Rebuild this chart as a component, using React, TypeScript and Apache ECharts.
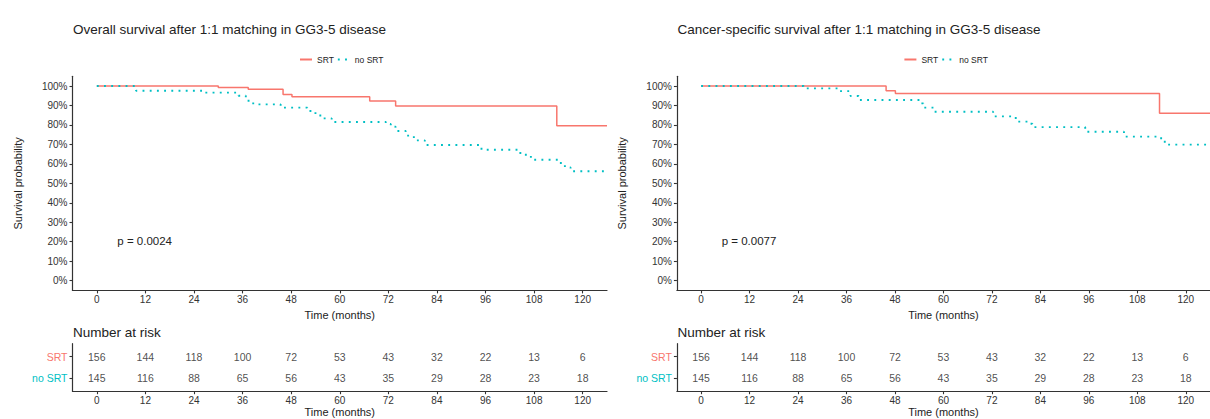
import React, { useEffect, useRef } from "react";
import * as echarts from "echarts";

// ---------- data ----------
const timeTicks = [0, 12, 24, 36, 48, 60, 72, 84, 96, 108, 120];
const survTicks = [0, 10, 20, 30, 40, 50, 60, 70, 80, 90, 100];
const groups = ["SRT", "no SRT"];

const osTitle = "Overall survival after 1:1 matching in GG3-5 disease";
const cssTitle = "Cancer-specific survival after 1:1 matching in GG3-5 disease";
const osP = "p = 0.0024";
const cssP = "p = 0.0077";

// Overall survival (time in months, survival %)
const osSrtTime = [0, 30, 37.4, 46, 48.2, 67.4, 73.8, 113.6, 126];
const osSrtSurv = [100, 99.3, 98.3, 95.7, 94.5, 92.3, 89.7, 79.6, 79.6];
const osNoTime = [0, 9.7, 26, 35, 36.8, 38, 39.2, 45.4, 52, 54, 55.2, 58, 71.4, 72.6, 73.8, 76.3, 78.3, 81, 95, 104.6, 107.2, 114.6, 115.6, 117, 126];
const osNoSurv = [100, 97.6, 96.6, 95.0, 92.4, 91.1, 90.6, 88.9, 87.2, 85.5, 83.4, 81.5, 80.5, 79.1, 76.9, 74.5, 72.1, 69.7, 67.3, 64.7, 62.1, 59.4, 58.2, 56.2, 56.2];

// Cancer-specific survival
const cssSrtTime = [0, 45.8, 48.1, 113.5, 126];
const cssSrtSurv = [100, 97.6, 96.2, 86.0, 86.0];
const cssNoTime = [0, 25.4, 34, 37, 39, 54.2, 55, 57.6, 72.3, 77.9, 81.2, 82, 95.1, 104.7, 113.9, 114.8, 126];
const cssNoSurv = [100, 98.8, 97.4, 94.9, 92.8, 91.1, 88.9, 86.8, 84.4, 81.7, 80.6, 78.9, 76.5, 74.0, 72.1, 69.9, 69.9];

// Number at risk
const osRiskSrt = [156, 144, 118, 100, 72, 53, 43, 32, 22, 13, 6];
const osRiskNo = [145, 116, 88, 65, 56, 43, 35, 29, 28, 23, 18];
const cssRiskSrt = [156, 144, 118, 100, 72, 53, 43, 32, 22, 13, 6];
const cssRiskNo = [145, 116, 88, 65, 56, 43, 35, 29, 28, 23, 18];

// ---------- style ----------
const RED = "#F8766D";
const TEAL = "#00BFC4";
const FONT = "'Liberation Sans', Arial, Helvetica, sans-serif";
const AX = "#333333";
const TXT = "#222222";
const X_MIN = -6;
const X_MAX = 126;

const zip = (t: number[], s: number[]) => t.map((v, i) => [v, s[i]]);

export default function App() {
  const ref = useRef<HTMLDivElement>(null);

  useEffect(() => {
    if (!ref.current) return;
    const chart = echarts.init(ref.current, undefined, { renderer: "svg" });

    const panelOffset = 604.4;
    const plotLeft = 72.5;
    const plotWidth = 534.5;

    const grids: any[] = [];
    const xAxes: any[] = [];
    const yAxes: any[] = [];
    const series: any[] = [];
    const titles: any[] = [];
    const legends: any[] = [];
    const graphics: any[] = [];

    const panels = [
      { title: osTitle, p: osP, srt: zip(osSrtTime, osSrtSurv), no: zip(osNoTime, osNoSurv), rs: osRiskSrt, rn: osRiskNo },
      { title: cssTitle, p: cssP, srt: zip(cssSrtTime, cssSrtSurv), no: zip(cssNoTime, cssNoSurv), rs: cssRiskSrt, rn: cssRiskNo },
    ];

    const axisLineStyle = { lineStyle: { color: AX, width: 1.2 }, onZero: false };
    const tickStyle = { show: true, length: 3, lineStyle: { color: AX, width: 1.1 } };
    const labelStyle = { color: "#333", fontFamily: FONT, fontSize: 10 };

    panels.forEach((pn, k) => {
      const off = k * panelOffset;
      const gPlot = grids.length;
      grids.push({ left: plotLeft + off, top: 76.3, width: plotWidth, height: 214.1 });
      const gTab = grids.length;
      grids.push({ left: plotLeft + off, top: 343.7, width: plotWidth, height: 47.5 });

      // plot axes
      xAxes.push({
        gridIndex: gPlot, type: "value", min: X_MIN, max: X_MAX,
        axisLine: axisLineStyle,
        axisTick: { ...tickStyle, customValues: timeTicks },
        axisLabel: { ...labelStyle, customValues: timeTicks, margin: 4 },
        splitLine: { show: false },
        name: "Time (months)", nameLocation: "middle", nameGap: 13,
        nameTextStyle: { color: TXT, fontFamily: FONT, fontSize: 11 },
      });
      yAxes.push({
        gridIndex: gPlot, type: "value", min: -5, max: 105,
        axisLine: axisLineStyle,
        axisTick: { ...tickStyle, customValues: survTicks },
        axisLabel: { ...labelStyle, customValues: survTicks, margin: 5, formatter: (v: number) => v + "%" },
        splitLine: { show: false },
        name: "Survival probability", nameLocation: "middle", nameGap: 49, nameRotate: 90,
        nameTextStyle: { color: TXT, fontFamily: FONT, fontSize: 11 },
      });
      // table axes
      xAxes.push({
        gridIndex: gTab, type: "value", min: X_MIN, max: X_MAX,
        axisLine: axisLineStyle,
        axisTick: { ...tickStyle, customValues: timeTicks },
        axisLabel: { ...labelStyle, customValues: timeTicks, margin: 4 },
        splitLine: { show: false },
        name: "Time (months)", nameLocation: "middle", nameGap: 14,
        nameTextStyle: { color: TXT, fontFamily: FONT, fontSize: 11 },
      });
      yAxes.push({
        gridIndex: gTab, type: "value", min: 0.4, max: 2.6, inverse: true,
        axisLine: axisLineStyle,
        axisTick: { ...tickStyle, customValues: [1, 2] },
        axisLabel: {
          fontFamily: FONT, fontSize: 10.5, margin: 5, customValues: [1, 2],
          formatter: (v: number) => (v === 1 ? `{a|${groups[0]}}` : `{b|${groups[1]}}`),
          rich: {
            a: { color: RED, fontFamily: FONT, fontSize: 10.5 },
            b: { color: TEAL, fontFamily: FONT, fontSize: 10.5 },
          },
        },
        splitLine: { show: false },
      });

      series.push({
        name: groups[0], type: "line", step: "end", xAxisIndex: gPlot, yAxisIndex: gPlot,
        data: pn.srt, symbol: "none", showSymbol: false, clip: true,
        lineStyle: { color: RED, width: 1.5 }, itemStyle: { color: RED }, z: 3,
      });
      series.push({
        name: groups[1], type: "line", step: "end", xAxisIndex: gPlot, yAxisIndex: gPlot,
        data: pn.no, symbol: "none", showSymbol: false, clip: true,
        lineStyle: { color: TEAL, width: 1.9, type: [1.9, 5.3], cap: "butt" }, itemStyle: { color: TEAL }, z: 4,
      });

      const tabLabel = {
        show: true, position: "inside",
        formatter: (p: any) => String(p.value[2]),
        color: TXT, fontFamily: FONT, fontSize: 10.5,
      };
      series.push({
        type: "scatter", xAxisIndex: gTab, yAxisIndex: gTab, symbolSize: 1,
        itemStyle: { color: "rgba(0,0,0,0)" }, silent: true,
        data: timeTicks.map((t, i) => [t, 1, pn.rs[i]]), label: tabLabel,
      });
      series.push({
        type: "scatter", xAxisIndex: gTab, yAxisIndex: gTab, symbolSize: 1,
        itemStyle: { color: "rgba(0,0,0,0)" }, silent: true,
        data: timeTicks.map((t, i) => [t, 2, pn.rn[i]]), label: tabLabel,
      });

      titles.push({
        text: pn.title, left: 73 + off, top: 22, padding: 0,
        textStyle: { color: TXT, fontFamily: FONT, fontSize: 13.5, fontWeight: "normal" },
      });
      titles.push({
        text: "Number at risk", left: 73 + off, top: 325, padding: 0,
        textStyle: { color: TXT, fontFamily: FONT, fontSize: 13.5, fontWeight: "normal" },
      });
      legends.push({
        data: groups, left: 294 + off, top: 50, itemWidth: 12, itemHeight: 8, itemGap: 3,
        textStyle: { color: TXT, fontFamily: FONT, fontSize: 8.5 },
        itemStyle: { opacity: 0 },
        selectedMode: false,
      });
      graphics.push({
        type: "text", left: 117.3 + off, top: 235,
        style: { text: pn.p, fill: TXT, font: `11.5px ${FONT}` },
      });
    });

    chart.setOption({
      animation: false,
      backgroundColor: "#ffffff",
      title: titles,
      legend: legends,
      grid: grids,
      xAxis: xAxes,
      yAxis: yAxes,
      series,
      graphic: graphics,
    });

    return () => chart.dispose();
  }, []);

  return (
    <div
      ref={ref}
      style={{ position: "fixed", left: 0, top: 0, width: 1210, height: 419 }}
    />
  );
}
